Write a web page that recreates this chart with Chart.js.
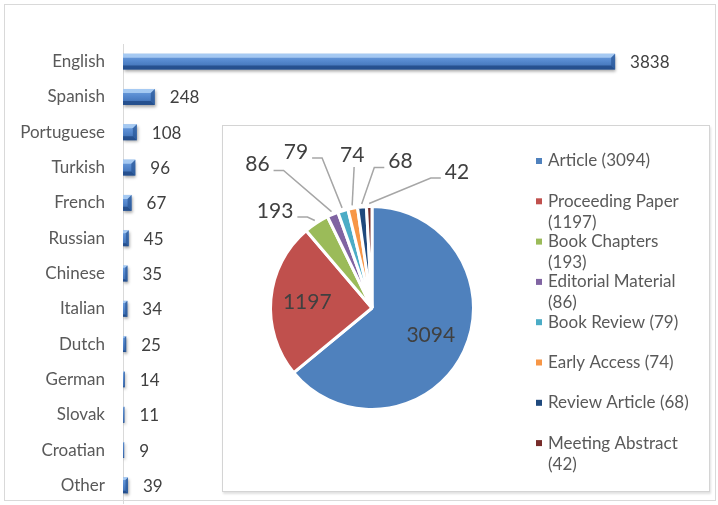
<!DOCTYPE html>
<html>
<head>
<meta charset="utf-8">
<script src="https://cdn.jsdelivr.net/npm/chart.js@4.4.1/dist/chart.umd.min.js"></script>
<style>
  html,body{margin:0;padding:0;background:#fff;}
  body{width:718px;height:505px;position:relative;overflow:hidden;}
  #frame{position:absolute;left:4px;top:4px;width:712px;height:497px;border:1px solid #d9d9d9;box-sizing:border-box;}
  #barCanvas{position:absolute;left:0;top:0;}
  #pieBox{position:absolute;left:222px;top:125px;width:488px;height:367px;border:1px solid #d4d4d4;box-sizing:border-box;background:#fff;box-shadow:1px 2px 2px rgba(0,0,0,0.12);}
  #pieCanvas{position:absolute;left:0;top:0;}
</style>
</head>
<body>
<div id="frame"></div>
<canvas id="barCanvas" width="718" height="505"></canvas>
<div id="pieBox"><canvas id="pieCanvas" width="486" height="365"></canvas></div>
<script>
// ---- data ----
const languages = ['English','Spanish','Portuguese','Turkish','French','Russian','Chinese','Italian','Dutch','German','Slovak','Croatian','Other'];
const languageCounts = [3838,248,108,96,67,45,35,34,25,14,11,9,39];

const docTypes = ['Article','Proceeding Paper','Book Chapters','Editorial Material','Book Review','Early Access','Review Article','Meeting Abstract'];
const docCounts = [3094,1197,193,86,79,74,68,42];

// ---- styles ----
const docColors = ['#4f81bd','#c0504d','#9bbb59','#8064a2','#4bacc6','#f79646','#1f497d','#772c2a'];
const FONT = 'Lato, "Open Sans", sans-serif';
const TEXT = '#404040';
// callout placement for small slices: [angle in degrees, distance as multiple of radius]
const calloutLayout = {2:[-135,1.35],3:[-128.6,1.81],4:[-116,1.71],5:[-97.4,1.52],6:[-79,1.47],7:[-58,1.58]};

// ---- bar chart ----
function poly(c, pts, fill){
  c.beginPath(); c.moveTo(pts[0][0],pts[0][1]);
  for(let i=1;i<pts.length;i++) c.lineTo(pts[i][0],pts[i][1]);
  c.closePath(); c.fillStyle=fill; c.fill();
}
const barValueLabels = {
  id:'barValueLabels',
  beforeDatasetsDraw(chart){
    const c = chart.ctx; c.save();
    c.shadowColor='rgba(0,0,0,0.35)'; c.shadowOffsetY=2; c.shadowOffsetX=1; c.shadowBlur=3;
  },
  afterDatasetsDraw(chart){
    const c = chart.ctx; c.restore(); c.save();
    const meta = chart.getDatasetMeta(0);
    // bevel decoration on each bar
    meta.data.forEach((el)=>{
      const {x,y,base,height} = el.getProps(['x','y','base','height'],true);
      const x0 = base, x1 = x, y0 = y-height/2, y1 = y+height/2;
      const b = Math.min(4, (x1-x0)/2);
      if(b<=0.2) return;
      poly(c, [[x0,y0],[x1,y0],[x1-b,y0+b],[x0,y0+b]], 'rgba(180,212,248,0.8)');
      poly(c, [[x0,y1],[x1,y1],[x1-b,y1-b],[x0,y1-b]], 'rgba(30,70,130,0.75)');
      poly(c, [[x1,y0],[x1,y1],[x1-b,y1-b],[x1-b,y0+b]], 'rgba(40,85,150,0.7)');
    });
    c.font = '17px ' + FONT; c.fillStyle = TEXT; c.textBaseline='middle'; c.textAlign='left';
    meta.data.forEach((el,i)=>{
      c.fillText(String(languageCounts[i]), el.x + 15, el.y + 1);
    });
    c.restore();
  }
};

function barFill(ctx){
  const chart = ctx.chart;
  const ys = chart.scales && chart.scales.y;
  if(!ys || ctx.dataIndex===undefined) return '#4f81bd';
  const y = ys.getPixelForValue(ctx.dataIndex);
  if(!isFinite(y)) return '#4f81bd';
  const g = chart.ctx.createLinearGradient(0,y-8,0,y+8);
  g.addColorStop(0,'#73a3e0');
  g.addColorStop(0.45,'#5689cf');
  g.addColorStop(1,'#3a6aae');
  return g;
}

new Chart(document.getElementById('barCanvas'),{
  type:'bar',
  data:{labels:languages,datasets:[{data:languageCounts,backgroundColor:barFill,borderWidth:0,barPercentage:0.45,categoryPercentage:1}]},
  options:{
    indexAxis:'y',responsive:false,animation:false,
    layout:{padding:{left:0,right:18,top:44,bottom:2}},
    plugins:{legend:{display:false},tooltip:{enabled:false},title:{display:false}},
    scales:{
      x:{display:false,min:0,max:4500},
      y:{
        grid:{display:false,drawTicks:false},
        border:{display:true,color:'#d9d9d9',width:1},
        ticks:{padding:18,color:'#595959',font:{family:FONT,size:17}},
        afterFit(scale){scale.width=123; scale.paddingTop=0; scale.paddingBottom=0;}
      }
    }
  },
  plugins:[barValueLabels]
});

// ---- pie chart ----
const pieLabels = {
  id:'pieLabels',
  afterDraw(chart){
    const c = chart.ctx;
    const meta = chart.getDatasetMeta(0);
    c.save();
    c.font = '21px ' + FONT; c.fillStyle = TEXT; c.textBaseline='middle'; c.textAlign='center';
    meta.data.forEach((arc,i)=>{
      const {x,y,startAngle,endAngle,outerRadius} = arc.getProps(['x','y','startAngle','endAngle','outerRadius'],true);
      const mid = (startAngle+endAngle)/2;
      const txt = String(docCounts[i]);
      if(!calloutLayout[i]){
        const d = outerRadius*0.64;
        c.fillText(txt, x+Math.cos(mid)*d, y+Math.sin(mid)*d);
      } else {
        const [angDeg,k] = calloutLayout[i];
        const a = angDeg*Math.PI/180;
        const lx = x+Math.cos(a)*outerRadius*k, ly = y+Math.sin(a)*outerRadius*k;
        const ax = x+Math.cos(mid)*(outerRadius+3), ay = y+Math.sin(mid)*(outerRadius+3);
        const w = c.measureText(txt).width;
        c.strokeStyle='#a6a6a6'; c.lineWidth=1.5; c.beginPath();
        if(Math.abs(lx-ax)<14){
          c.moveTo(lx+2, ly+12); c.lineTo(ax, ay);
        } else if(lx<ax){
          const sx = lx+w/2+4;
          c.moveTo(sx, ly+6); c.lineTo(sx+10, ly+6); c.lineTo(ax, ay);
        } else {
          const sx = lx-w/2-4;
          c.moveTo(sx, ly+6); c.lineTo(sx-10, ly+6); c.lineTo(ax, ay);
        }
        c.stroke();
        c.fillText(txt, lx, ly);
      }
    });
    // legend
    c.font = '17px ' + FONT; c.textAlign='left'; c.textBaseline='middle';
    const lx = 313, tx = 325, y0 = 35, step = 40.3, lineH = 21;
    const maxW = c.measureText('Review Article (68)').width + 4;
    docTypes.forEach((name,i)=>{
      const y = y0 + i*step;
      c.fillStyle = docColors[i];
      c.fillRect(lx, y-3, 6, 6);
      c.fillStyle = '#595959';
      const full = name + ' (' + docCounts[i] + ')';
      if(c.measureText(full).width <= maxW){
        c.fillText(full, tx, y);
      } else {
        c.fillText(name, tx, y);
        c.fillText('(' + docCounts[i] + ')', tx, y+lineH);
      }
    });
    c.restore();
  }
};

new Chart(document.getElementById('pieCanvas'),{
  type:'pie',
  data:{labels:docTypes,datasets:[{data:docCounts,backgroundColor:docColors,borderColor:'#ffffff',borderWidth:3}]},
  options:{
    responsive:false,animation:false,
    layout:{padding:{left:46,right:234,top:79,bottom:80}},
    plugins:{legend:{display:false},tooltip:{enabled:false}}
  },
  plugins:[pieLabels]
});
</script>
</body>
</html>
